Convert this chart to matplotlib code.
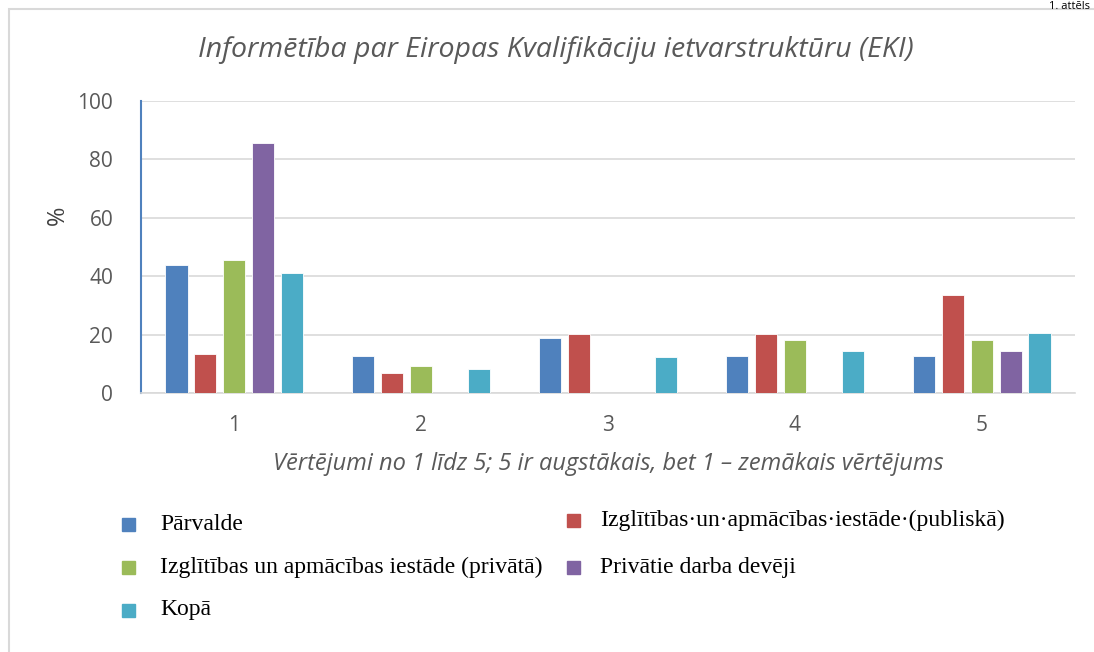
#!/usr/bin/env python3
"""Bar chart: Informētība par Eiropas Kvalifikāciju ietvarstruktūru (EKI)."""

import matplotlib.pyplot as plt
import numpy as np
from matplotlib.patches import Rectangle

categories = ["1", "2", "3", "4", "5"]
series_names = [
    "Pārvalde",
    "Izglītības·un·apmācības·iestāde·(publiskā)",
    "Izglītības un apmācības iestāde (privātā)",
    "Privātie darba devēji",
    "Kopā",
]
parvalde = [43.8, 12.6, 18.8, 12.6, 12.6]
izgl_publiska = [13.4, 6.8, 20.2, 20.2, 33.4]
izgl_privata = [45.5, 9.1, 0.0, 18.2, 18.2]
privatie = [85.7, 0.0, 0.0, 0.0, 14.3]
kopa = [41.0, 8.2, 12.3, 14.4, 20.5]
y_ticks = [0, 20, 40, 60, 80, 100]

colors = ["#4F81BD", "#C0504D", "#9BBB59", "#8064A2", "#4BACC6"]
values = [parvalde, izgl_publiska, izgl_privata, privatie, kopa]

W, H = 1094, 652
fig = plt.figure(figsize=(W / 100, H / 100), dpi=100)
ax = fig.add_axes([141 / W, 1 - 393 / H, (1075 - 141) / W, (393 - 101) / H])

x = np.arange(len(categories))
pitch = 0.155
width = 0.118
for i, (vals, col) in enumerate(zip(values, colors)):
    ax.bar(x + (i - 2) * pitch, vals, width=width, color=col,
           edgecolor="white", linewidth=0.6, zorder=3)

ax.set_xlim(-0.5, len(categories) - 0.5)
ax.set_ylim(0, 100)
ax.set_yticks(y_ticks)
ax.set_xticks(x)
ax.set_xticklabels(categories)
ax.tick_params(axis="both", length=0, labelsize=15, labelcolor="#595959")
ax.tick_params(axis="y", pad=20)
ax.tick_params(axis="x", pad=16)
for lab in ax.get_xticklabels() + ax.get_yticklabels():
    lab.set_fontfamily("Open Sans")
ax.grid(axis="y", color="#D9D9D9", linewidth=1.2, zorder=0)
for side in ["top", "right"]:
    ax.spines[side].set_visible(False)
ax.spines["left"].set_color("#4F81BD")
ax.spines["left"].set_linewidth(1.5)
ax.spines["bottom"].set_color("#D9D9D9")
ax.spines["bottom"].set_linewidth(1.2)

ax.set_ylabel("%", fontsize=17, color="#404040", family="Open Sans", va="center")
ax.yaxis.set_label_coords(-0.089, 0.61)
ax.set_xlabel("Vērtējumi no 1 līdz 5; 5 ir augstākais, bet 1 – zemākais vērtējums",
              fontsize=17, color="#595959", style="italic", family="Open Sans", labelpad=11)
fig.text(556 / W, 1 - 50 / H, "Informētība par Eiropas Kvalifikāciju ietvarstruktūru (EKI)",
         ha="center", va="center", fontsize=20.5, color="#595959", style="italic",
         family="Open Sans")

# outer frame and small caption at the top right
fig.add_artist(Rectangle((9 / W, -0.1), 1.2, 1 - 9 / H + 0.1, transform=fig.transFigure,
                         fill=False, edgecolor="#D9D9D9", linewidth=1.5))
fig.text(1090 / W, 1 - 1 / H, "1. attēls", ha="right", va="top", fontsize=8,
         color="black", family="Open Sans")

# legend, laid out like the original text box
legend_slots = [(128, 160, 524), (573, 600, 520), (128, 160, 567), (573, 600, 567), (128, 160, 610)]
for (mx, tx, ty), name, col in zip(legend_slots, series_names, colors):
    fig.add_artist(Rectangle(((mx - 6.5) / W, 1 - (ty + 6.5) / H), 13 / W, 13 / H,
                             transform=fig.transFigure, color=col))
    fig.text(tx / W, 1 - ty / H, name, ha="left", va="center", fontsize=17,
             family="Liberation Serif", color="black")

fig.savefig("out.png", dpi=100)
